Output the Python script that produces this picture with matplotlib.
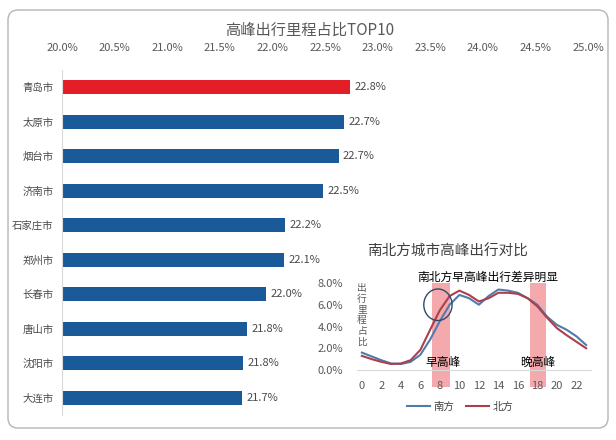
import matplotlib
matplotlib.use("Agg")
import matplotlib.pyplot as plt
from matplotlib.patches import FancyBboxPatch, Ellipse
from matplotlib.transforms import IdentityTransform
from matplotlib.ticker import FuncFormatter

plt.rcParams['font.family'] = ['Noto Sans CJK SC', 'DejaVu Sans']

# main bar chart data
cities = ["青岛市", "太原市", "烟台市", "济南市", "石家庄市", "郑州市", "长春市", "唐山市", "沈阳市", "大连市"]
share = [22.74, 22.68, 22.63, 22.48, 22.12, 22.11, 21.94, 21.76, 21.72, 21.71]
share_labels = ["22.8%", "22.7%", "22.7%", "22.5%", "22.2%", "22.1%", "22.0%", "21.8%", "21.8%", "21.7%"]

# inset line chart data (hour of day, % of mileage)
hours = list(range(24))
south = [1.6, 1.25, 0.9, 0.6, 0.55, 0.75, 1.4, 2.8, 4.5, 6.0, 6.9, 6.6,
         6.0, 6.8, 7.4, 7.3, 7.1, 6.6, 6.0, 4.9, 4.15, 3.7, 3.1, 2.3]
north = [1.3, 1.0, 0.75, 0.55, 0.6, 0.9, 1.85, 3.7, 5.5, 6.8, 7.3, 6.9,
         6.3, 6.6, 7.1, 7.1, 7.0, 6.6, 5.85, 4.8, 3.85, 3.2, 2.6, 2.0]

W, H = 616, 440
fig = plt.figure(figsize=(W / 100, H / 100), dpi=100)
fig.patch.set_facecolor("white")

# rounded frame
frame = FancyBboxPatch((8, 12), 600, 418, boxstyle="round,pad=0,rounding_size=10",
                       transform=IdentityTransform(), facecolor="none",
                       edgecolor="#b5b5b5", linewidth=1.0, zorder=-1)
fig.patches.append(frame)


def box(l, t, r, b):
    return [l / W, 1 - b / H, (r - l) / W, (b - t) / H]


ax = fig.add_axes(box(62, 70, 588, 415))
colors = ["#e41e26"] + ["#1b5a99"] * (len(cities) - 1)
ax.barh(range(len(cities)), [v - 20 for v in share], left=20, height=0.4, color=colors)
for i, (v, lab) in enumerate(zip(share, share_labels)):
    ax.text(v + 0.04, i, lab, va="center", ha="left", fontsize=8, color="#4a4a4a")
ax.set_xlim(20, 25)
ax.set_ylim(len(cities) - 0.5, -0.5)
ax.set_yticks(range(len(cities)))
ax.set_yticklabels(cities, fontsize=7.5, color="#4a4a4a")
ax.set_xticks([20 + 0.5 * i for i in range(11)])
ax.xaxis.set_major_formatter(FuncFormatter(lambda x, p: f"{x:.1f}%"))
ax.xaxis.tick_top()
ax.tick_params(axis="x", length=0, pad=12, labelsize=8, labelcolor="#595959")
ax.tick_params(axis="y", length=0, pad=6)
for s in ["top", "right", "bottom"]:
    ax.spines[s].set_visible(False)
ax.spines["left"].set_color("#d9d9d9")
ax.patch.set_alpha(0)

fig.text(310 / W, 1 - 30 / H, "高峰出行里程占比TOP10", ha="center", va="center",
         fontsize=11, color="#595959")

# inset
ax2 = fig.add_axes(box(357, 283, 591, 370))
ax2.axvspan(7.2, 9.0, ymin=-0.2, ymax=1.0, color="#f4aaac", clip_on=False, zorder=0, lw=0)
ax2.axvspan(17.2, 18.9, ymin=-0.2, ymax=1.0, color="#f4aaac", clip_on=False, zorder=0, lw=0)
ax2.plot(hours, south, color="#4f7cab", lw=1.5, label="南方", zorder=3)
ax2.plot(hours, north, color="#ab404c", lw=1.5, label="北方", zorder=3)
ax2.set_xlim(-0.5, 23.5)
ax2.set_ylim(0, 8)
ax2.set_xticks(range(0, 24, 2))
ax2.set_yticks([0, 2, 4, 6, 8])
ax2.yaxis.set_major_formatter(FuncFormatter(lambda y, p: f"{y:.1f}%"))
ax2.tick_params(length=0, labelsize=8, labelcolor="#595959")
ax2.tick_params(axis="x", pad=8)
ax2.tick_params(axis="y", pad=10)
for s in ["top", "right", "left"]:
    ax2.spines[s].set_visible(False)
ax2.spines["bottom"].set_color("#d9d9d9")
ax2.patch.set_alpha(0)
ax2.add_patch(Ellipse((7.8, 6.0), 2.9, 2.9, fill=False, edgecolor="#2f4a6e", lw=1.0, zorder=4))
leg = ax2.legend(loc="upper center", bbox_to_anchor=(0.44, -0.26), ncol=2, frameon=False,
                 fontsize=7.5, handlelength=2.2, columnspacing=1.2, handletextpad=0.3)
for t in leg.get_texts():
    t.set_color("#404040")

fig.text(448 / W, 1 - 252 / H, "南北方城市高峰出行对比", ha="center", va="center",
         fontsize=10.5, color="#404040")
fig.text(488 / W, 1 - 277 / H, "南北方早高峰出行差异明显", ha="center", va="center",
         fontsize=8.5, color="black")
fig.text(443 / W, 1 - 362 / H, "早高峰", ha="center", va="center", fontsize=8.5, color="black")
fig.text(538 / W, 1 - 362 / H, "晚高峰", ha="center", va="center", fontsize=8.5, color="black")
fig.text(362 / W, 1 - 315 / H, "\n".join("出行里程占比"), ha="center", va="center",
         fontsize=7, color="#595959", linespacing=1.08)

fig.savefig("out.png", dpi=100, facecolor="white")
